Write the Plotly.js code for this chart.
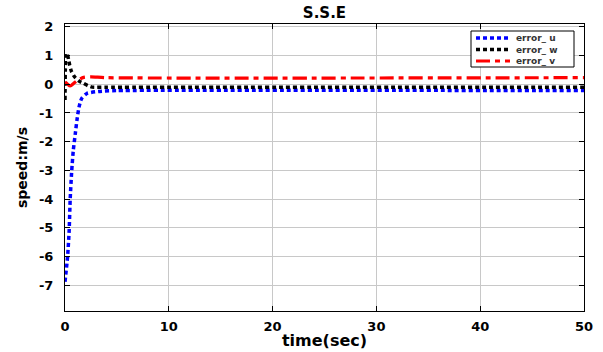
<!DOCTYPE html>
<html>
<head>
<meta charset="utf-8">
<script src="https://cdn.plot.ly/plotly-3.0.1.min.js"></script>
<style>html,body{margin:0;padding:0;background:#fff;}#chart{width:603px;height:352px;}</style>
</head>
<body>
<div id="chart"></div>
<script>
// ---- data ----
const seriesNames = ["error_ u", "error_ w", "error_ v"];
const seriesColors = ["#0000ff", "#000000", "#ff0000"];

const tU = [0, 0.25, 0.4, 0.5, 0.65, 0.8, 1.0, 1.15, 1.35, 1.6, 2.1, 3.2, 5, 50];
const errU = [-6.88, -6.0, -5.1, -4.0, -3.0, -2.3, -1.7, -1.25, -0.8, -0.5, -0.32, -0.25, -0.22, -0.22];

const tW = [0, 0.03, 0.1, 0.25, 0.35, 0.45, 0.6, 0.9, 1.4, 1.8, 2.2, 2.6, 4, 50];
const errW = [-0.55, 0.5, 1.08, 1.0, 0.85, 0.67, 0.47, 0.27, 0.1, 0.03, -0.05, -0.1, -0.1, -0.1];

const tV = [0, 0.2, 0.5, 0.9, 1.3, 1.8, 2.5, 4, 50];
const errV = [0.08, 0.02, -0.06, 0.05, 0.16, 0.24, 0.26, 0.23, 0.23];

const xTicks = [0, 10, 20, 30, 40, 50];
const yTicks = [-7, -6, -5, -4, -3, -2, -1, 0, 1, 2];

const chartTitle = "S.S.E";
const xTitle = "time(sec)";
const yTitle = "speed:m/s";

// ---- styles ----
const dashes = ["4px,3px", "4px,3px", "14px,5px,5px,5px"];
const widths = [3.5, 3.5, 3.2];
const FONT = "DejaVu Sans, Liberation Sans, Arial, sans-serif";

const xs = [tU, tW, tV];
const ys = [errU, errW, errV];

const traces = seriesNames.map((n, i) => ({
  x: xs[i], y: ys[i], name: n, type: "scatter", mode: "lines",
  line: {color: seriesColors[i], width: widths[i], dash: dashes[i], shape: "spline", smoothing: 0.6},
  showlegend: false, hoverinfo: "skip"
}));

// custom compact legend (layout decoration, paper coordinates)
const L = 65, R = 584, T = 24, B = 311;
const px = v => (v - L) / (R - L);
const py = v => (B - v) / (B - T);
const rowY = [38, 49.5, 61];
const shapes = [{type: "rect", xref: "paper", yref: "paper",
  x0: px(471), x1: px(574), y0: py(67), y1: py(31),
  line: {color: "#000", width: 1}, fillcolor: "#fff", layer: "above"}];
seriesNames.forEach((n, i) => {
  shapes.push({type: "line", xref: "paper", yref: "paper",
    x0: px(476), x1: px(510), y0: py(rowY[i]), y1: py(rowY[i]),
    line: {color: seriesColors[i], width: widths[i], dash: dashes[i]}, layer: "above"});
});
const annotations = [{xref: "paper", yref: "paper", x: px(515), y: py(49.5),
  xanchor: "left", yanchor: "middle", align: "left", borderpad: 0,
  text: seriesNames.join("<br>"), showarrow: false,
  font: {family: FONT, size: 9, color: "#333", weight: "bold"}}];

const axisCommon = {
  showline: true, linecolor: "#000", linewidth: 1, mirror: "ticks",
  ticks: "inside", ticklen: 5, tickcolor: "#000",
  showgrid: true, gridcolor: "#c8c8c8", gridwidth: 1, zeroline: false,
  tickfont: {family: FONT, size: 13, color: "#000", weight: "bold"}
};

const layout = {
  width: 603, height: 352,
  margin: {l: L, r: 603 - R, t: T, b: 352 - B},
  paper_bgcolor: "#fff", plot_bgcolor: "#fff",
  title: {text: chartTitle, x: 0.5381, xanchor: "center", y: 0.963, yanchor: "middle",
    font: {family: FONT, size: 15, color: "#000", weight: "bold"}},
  xaxis: Object.assign({}, axisCommon, {
    range: [0, 50], tickvals: xTicks, ticktext: xTicks.map(String),
    ticklabelstandoff: 3,
    title: {text: xTitle, standoff: 2, font: {family: FONT, size: 16, color: "#000", weight: "bold"}}
  }),
  yaxis: Object.assign({}, axisCommon, {
    range: [-7.9, 2.1], tickvals: yTicks, ticktext: yTicks.map(String),
    ticklabelstandoff: 8,
    title: {text: yTitle, standoff: 8, font: {family: FONT, size: 14, color: "#000", weight: "bold"}}
  }),
  shapes: shapes, annotations: annotations, showlegend: false
};

Plotly.newPlot("chart", traces, layout, {displayModeBar: false, staticPlot: true});
</script>
</body>
</html>
